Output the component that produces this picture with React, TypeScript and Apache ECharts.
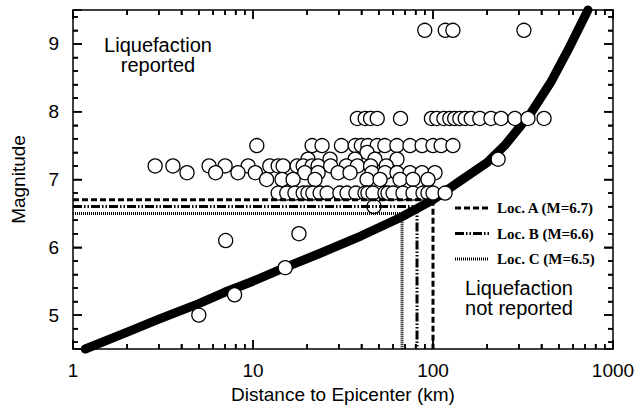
import React, { useEffect, useRef } from "react";
import * as echarts from "echarts";

// Boundary curve (distance km, magnitude)
const curveR = [1.17, 2, 3, 5, 7, 10, 15, 24, 40, 66, 100, 140, 200, 250, 350, 450, 560, 726];
const curveM = [4.5, 4.75, 4.94, 5.17, 5.34, 5.5, 5.7, 5.92, 6.17, 6.44, 6.7, 6.97, 7.25, 7.5, 7.98, 8.43, 8.9, 9.5];

// Case histories grouped by magnitude: distances in km
const row92 = [90, 117, 129, 320];
const row79 = [38, 42, 45, 49, 66, 98, 105, 115, 124, 132, 141, 151, 163, 182, 210, 239, 285, 337, 414];
const row75 = [10.5, 21.3, 24.2, 31, 37, 40, 43.5, 49, 54, 63, 74.5, 87, 100, 111, 129];
const row74 = [43];
const row73 = [20.2, 26.8, 36.9, 47.6, 63.1, 230];
const row72 = [2.86, 3.59, 5.7, 7.0, 9.4, 12.4, 13.8, 14.7, 17.6, 19.0, 21.3, 23.0, 27, 33, 38, 45, 55];
const row71 = [4.3, 6.2, 8.25, 10.3, 19.4, 23, 29.7, 34.6, 45.8, 54.1, 63.1, 74.5, 86.9, 102.6];
const row70 = [11.9, 14.5, 16.7, 22.1, 43, 50.8, 65.6, 77.4, 93.8];
const row68 = [13.8, 15.4, 17.1, 19.0, 20.2, 21.5, 23.6, 25.8, 30.4, 33.3, 37.3, 41.9, 43.5, 46.4, 54.1, 56.2, 60, 68.1, 77.4, 88, 93.8, 100, 116.7];
const row66 = [47];
const lowR = [5.0, 7.9, 15.1, 7.05, 18.0];
const lowM = [5.0, 5.3, 5.7, 6.1, 6.2];

// Site thresholds
const locNames = ["Loc. A (M=6.7)", "Loc. B (M=6.6)", "Loc. C (M=6.5)"];
const locM = [6.7, 6.6, 6.5];
const locR = [100, 81.5, 67.3];
const locDash = [[6, 3], [9, 2, 1.5, 2, 1.5, 2], [1, 1]];

// Axis labels and tick positions
const yLabels = [5, 6, 7, 8, 9];
const xMajor = [1, 10, 100, 1000];
const xMinor = [2, 3, 4, 5, 6, 7, 8, 9, 20, 30, 40, 50, 60, 70, 80, 90, 200, 300, 400, 500, 600, 700, 800, 900];
const yMajor = [5, 6, 7, 8, 9];
const yMinor = [4.6, 4.8, 5.2, 5.4, 5.6, 5.8, 6.2, 6.4, 6.6, 6.8, 7.2, 7.4, 7.6, 7.8, 8.2, 8.4, 8.6, 8.8, 9.2, 9.4];

const X_MIN = 1;
const X_MAX = 1000;
const Y_MIN = 4.5;
const Y_MAX = 9.5;
const MAJOR_LEN = 9;
const MINOR_LEN = 5;
const TICK_W = 1.5;

const SANS = "Liberation Sans, Arial, Helvetica, sans-serif";
const SERIF = "Liberation Serif, Times New Roman, serif";

const tickLine = { color: "#000", width: TICK_W };
const frameLine = { color: "#000", width: 1.5 };

// Inward major + minor ticks shared by all four frame sides
const ticks = (minorSplit: number) => ({
  axisTick: { show: true, inside: true, length: MAJOR_LEN, lineStyle: tickLine },
  minorTick: { show: true, splitNumber: minorSplit, length: MINOR_LEN, lineStyle: tickLine },
  axisLine: { show: true, lineStyle: frameLine },
  splitLine: { show: false },
  minorSplitLine: { show: false },
});

export default function App() {
  const ref = useRef<HTMLDivElement>(null);

  useEffect(() => {
    if (!ref.current) return;
    const chart = echarts.init(ref.current, undefined, { renderer: "svg" });

    const rows: [number, number[]][] = [
      [9.2, row92], [7.9, row79], [7.5, row75], [7.4, row74], [7.3, row73],
      [7.2, row72], [7.1, row71], [7.0, row70], [6.8, row68], [6.6, row66],
    ];
    const points: number[][] = [];
    rows.forEach(([m, rs]) => rs.forEach((r) => points.push([r, m])));
    lowR.forEach((r, i) => points.push([r, lowM[i]]));

    const locSeries = locNames.map((name, i) => ({
      type: "line",
      name,
      data: [[X_MIN, locM[i]], [locR[i], locM[i]], [locR[i], Y_MIN]],
      symbol: "none",
      z: 5,
      silent: true,
      lineStyle: { color: "#000", width: 3, type: locDash[i], cap: "butt" },
    }));

    chart.setOption({
      animation: false,
      backgroundColor: "#fff",
      grid: { left: 73, right: 25, top: 10, bottom: 61, containLabel: false },
      xAxis: [
        {
          type: "log", logBase: 10, min: X_MIN, max: X_MAX, position: "bottom",
          ...ticks(9),
          axisLabel: { show: true, formatter: (v: number) => String(v), fontSize: 19, color: "#000", fontFamily: SANS, margin: 12 },
          name: "Distance to Epicenter (km)", nameLocation: "middle", nameGap: 34,
          nameTextStyle: { fontSize: 19, color: "#000", fontFamily: SANS },
        },
        {
          type: "log", logBase: 10, min: X_MIN, max: X_MAX, position: "top",
          ...ticks(9),
          axisLabel: { show: false },
        },
      ],
      yAxis: [
        {
          type: "value", min: Y_MIN, max: Y_MAX, position: "left",
          ...ticks(5),
          axisLabel: {
            show: true, customValues: yLabels,
            formatter: (v: number) => (Math.abs(v - Math.round(v)) < 1e-6 ? String(Math.round(v)) : ""),
            fontSize: 19, color: "#000", fontFamily: SANS, margin: 14,
          },
          name: "Magnitude", nameLocation: "middle", nameGap: 45, nameRotate: 90,
          nameTextStyle: { fontSize: 19, color: "#000", fontFamily: SANS },
        },
        {
          type: "value", min: Y_MIN, max: Y_MAX, position: "right",
          ...ticks(5),
          axisLabel: { show: false },
        },
      ],
      series: [
        {
          type: "line",
          data: curveR.map((r, i) => [r, curveM[i]]),
          smooth: false,
          symbol: "none",
          clip: false,
          z: 2,
          lineStyle: { color: "#000", width: 9, cap: "round", join: "round" },
        },
        {
          type: "scatter",
          data: points,
          symbol: "circle",
          symbolSize: 14,
          z: 3,
          itemStyle: { color: "#fff", borderColor: "#000", borderWidth: 1.3, opacity: 1 },
        },
        ...locSeries,
      ],
    } as any);

    // Frame ticks as filled bars, placed through the grid's own scales
    const toPx = (x: number, y: number): number[] | null => {
      const p = chart.convertToPixel({ gridIndex: 0 }, [x, y]) as any;
      return Array.isArray(p) && isFinite(p[0]) && isFinite(p[1]) ? p : null;
    };
    const bars: any[] = [];
    const bar = (x: number, y: number, w: number, h: number) =>
      bars.push({ type: "rect", silent: true, z: 100, shape: { x, y, width: w, height: h }, style: { fill: "#000" } });
    const addX = (v: number, len: number) => {
      const b = toPx(v, Y_MIN);
      const t = toPx(v, Y_MAX);
      if (b) bar(b[0] - TICK_W / 2, b[1] - len, TICK_W, len);
      if (t) bar(t[0] - TICK_W / 2, t[1], TICK_W, len);
    };
    const addY = (v: number, len: number) => {
      const l = toPx(X_MIN, v);
      const r = toPx(X_MAX, v);
      if (l) bar(l[0], l[1] - TICK_W / 2, len, TICK_W);
      if (r) bar(r[0] - len, r[1] - TICK_W / 2, len, TICK_W);
    };
    xMajor.forEach((v) => addX(v, MAJOR_LEN));
    xMinor.forEach((v) => addX(v, MINOR_LEN));
    yMajor.forEach((v) => addY(v, MAJOR_LEN));
    yMinor.forEach((v) => addY(v, MINOR_LEN));

    // Legend rows drawn as sample strokes with bold serif captions
    const legendTop = 208;
    const legendStep = 25.5;
    const legendGraphics: any[] = [];
    locNames.forEach((name, i) => {
      const y = legendTop + i * legendStep;
      legendGraphics.push({
        type: "line",
        shape: { x1: 455, y1: y, x2: 489, y2: y },
        style: { stroke: "#000", lineWidth: 3, lineDash: locDash[i] },
      });
      legendGraphics.push({
        type: "text",
        x: 497, y,
        style: { text: name, font: `bold 15px ${SERIF}`, fill: "#000", textAlign: "left", textVerticalAlign: "middle" },
      });
    });

    const note = (x: number, y: number, text: string) => ({
      type: "text", x, y,
      style: { text, font: `20px ${SANS}`, fill: "#000", textAlign: "center", textVerticalAlign: "middle" },
    });

    chart.setOption({
      graphic: [
        ...legendGraphics,
        note(158, 45, "Liquefaction"),
        note(158, 65, "reported"),
        note(519, 288, "Liquefaction"),
        note(519, 308, "not reported"),
        ...bars,
      ],
    } as any);

    return () => chart.dispose();
  }, []);

  return (
    <div
      ref={ref}
      style={{ position: "fixed", left: 0, top: 0, width: 638, height: 410, background: "#fff" }}
    />
  );
}
